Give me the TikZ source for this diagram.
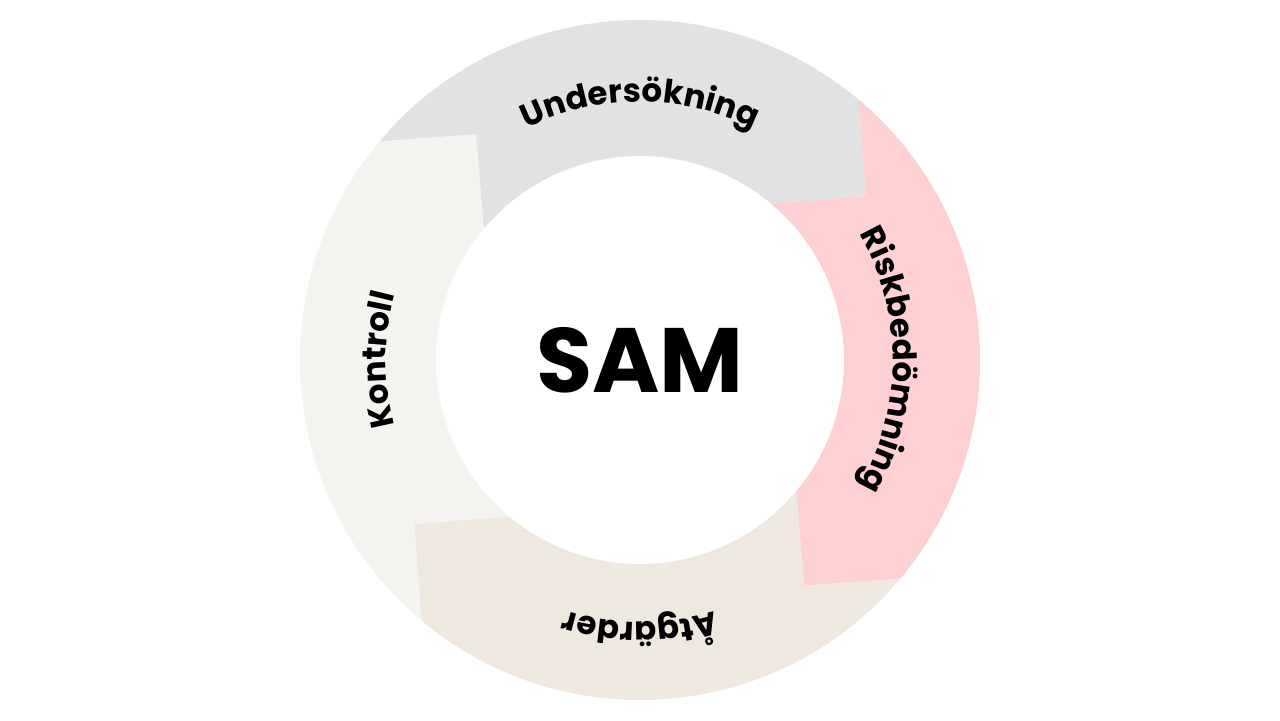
\documentclass[tikz,border=0pt]{standalone}
\usepackage{fontspec}
\setmainfont{Poppins}
\usetikzlibrary{decorations.text}

\definecolor{undgray}{HTML}{E2E2E2}
\definecolor{riskpink}{HTML}{FDD1D2}
\definecolor{atgbeige}{HTML}{EEE8DF}
\definecolor{kontlight}{HTML}{F4F3EF}

\tikzset{
  ringlabel/.style={decorate, decoration={text along path, text align=center,
    text={|\bfseries\fontsize{18.5}{18.5}\selectfont|#1}}}
}

\begin{document}
\begin{tikzpicture}

\useasboundingbox (-12.8,-7.2) rectangle (12.8,7.2);

\def\R{6.8}
\def\r{4.08}
\def\M{5.58}

% ring pieces, each with a tip pointing clockwise
\fill[undgray] (140:\R) arc[start angle=140, end angle=50, radius=\R] -- (36:\M)
  -- (50:\r) arc[start angle=50, end angle=140, radius=\r] -- (126:\M) -- cycle;
\fill[riskpink] (50:\R) arc[start angle=50, end angle=-40, radius=\R] -- (-54:\M)
  -- (-40:\r) arc[start angle=-40, end angle=50, radius=\r] -- (36:\M) -- cycle;
\fill[atgbeige] (-40:\R) arc[start angle=-40, end angle=-130, radius=\R] -- (-144:\M)
  -- (-130:\r) arc[start angle=-130, end angle=-40, radius=\r] -- (-54:\M) -- cycle;
\fill[kontlight] (230:\R) arc[start angle=230, end angle=140, radius=\R] -- (126:\M)
  -- (140:\r) arc[start angle=140, end angle=230, radius=\r] -- (216:\M) -- cycle;

% labels along the ring
\path[ringlabel={Undersökning}] (140:5.16) arc[start angle=140, end angle=40, radius=5.16];
\path[ringlabel={Riskbedömning}] (50:5.06) arc[start angle=50, end angle=-50, radius=5.06];
\path[ringlabel={Åtgärder}] (-40:5.24) arc[start angle=-40, end angle=-140, radius=5.24];
\path[ringlabel={Kontroll}] (230:5.08) arc[start angle=230, end angle=130, radius=5.08];

\node (sam) at (0,0) {\fontsize{52}{52}\selectfont\bfseries SAM};

\end{tikzpicture}
\end{document}
